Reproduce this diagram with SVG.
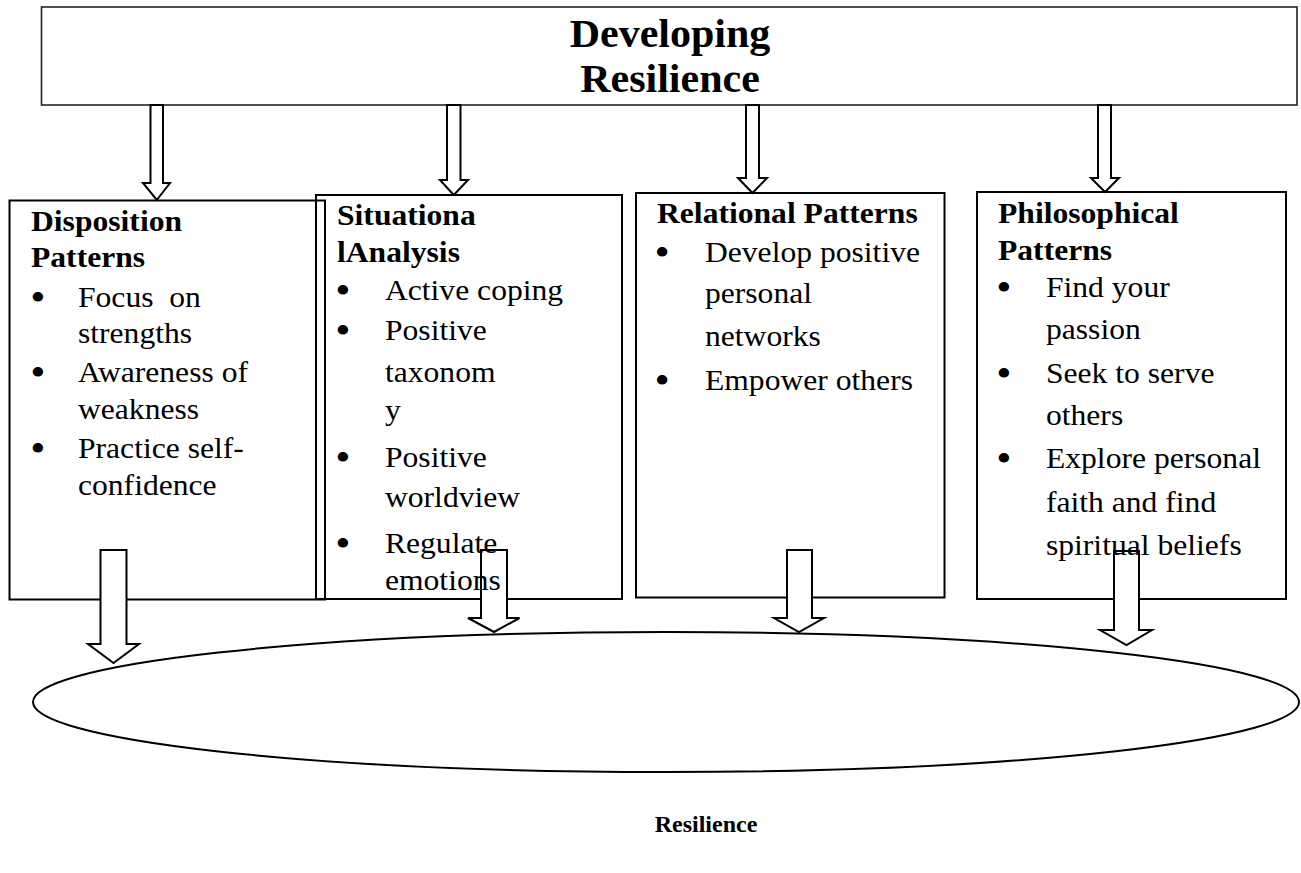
<svg xmlns="http://www.w3.org/2000/svg" width="1301" height="873" viewBox="0 0 1301 873">
<style>
.box{fill:none;stroke:#000;stroke-width:2}
.top{fill:#fff;stroke:#222;stroke-width:1.6}
.arrow{fill:#fff;stroke:#000;stroke-width:2;stroke-linejoin:miter}
.oval{fill:none;stroke:#000;stroke-width:2}
text{font-family:'Liberation Serif','Times New Roman',Tinos,'Nimbus Roman','FreeSerif',serif;fill:#000}
.h{font-weight:bold;font-size:29px}
.b{font-size:29px}
.dot{font-size:40px;text-anchor:middle}
.title{font-weight:bold;font-size:40px;text-anchor:middle}
.res{font-weight:bold;font-size:24px;text-anchor:middle}
</style>
<rect width="1301" height="873" fill="#fff"/>

<g id="node-top">
<rect class="top" x="41.5" y="7" width="1255.5" height="98"/>
<g transform="matrix(1.05,0,0,1,670,0)">
<text class="title" x="0" y="47" font-family="Liberation Serif, serif">Developing</text>
<text class="title" x="0" y="92" font-family="Liberation Serif, serif">Resilience</text>
</g>
</g>

<g id="node-disposition"><rect class="box" x="9.5" y="200.5" width="315.5" height="399"/></g>
<g id="node-situational"><rect class="box" x="316" y="195" width="306" height="404"/></g>
<g id="node-relational"><rect class="box" x="636" y="193" width="308.5" height="404.5"/></g>
<g id="node-philosophical"><rect class="box" x="977" y="192" width="309" height="407"/></g>
<g id="node-resilience">
<ellipse class="oval" cx="666" cy="702" rx="633" ry="70"/>
<text class="res" x="706" y="832">Resilience</text>
</g>

<g id="connectors">
<polygon class="arrow" points="150.5,105 163,105 163,183 170,183 156.75,200 143,183 150.5,183"/>
<polygon class="arrow" points="447,105 460.5,105 460.5,180 468,180 453.75,195 440,180 447,180"/>
<polygon class="arrow" points="746,105 759,105 759,178 767,178 752.5,193 738,178 746,178"/>
<polygon class="arrow" points="1098,105 1111,105 1111,178 1119,178 1105,192 1091,178 1098,178"/>
<polygon class="arrow" points="100.5,550 126.5,550 126.5,644 139,644 113.5,663 88,644 100.5,644"/>
<polygon class="arrow" points="481,550 507,550 507,618 519.5,618 494,632 468,618 481,618"/>
<polygon class="arrow" points="787,550 812,550 812,618 824,618 799,632 774,618 787,618"/>
<polygon class="arrow" points="1114,551 1139,551 1139,630 1152,630 1126.5,645 1100,630 1114,630"/>
</g>

<g id="label-disposition" transform="matrix(1.09,0,0,1,31,0)">
<text class="h" x="0" y="231">Disposition</text>
<text class="h" x="0" y="267">Patterns</text>
<text class="dot" x="6.4" y="311">•</text>
<text class="b" x="43.1" y="307" xml:space="preserve">Focus  on</text>
<text class="b" x="43.1" y="343">strengths</text>
<text class="dot" x="6.4" y="386">•</text>
<text class="b" x="43.1" y="382">Awareness of</text>
<text class="b" x="43.1" y="419">weakness</text>
<text class="dot" x="6.4" y="462">•</text>
<text class="b" x="43.1" y="458">Practice self-</text>
<text class="b" x="43.1" y="495">confidence</text>
</g>

<g id="label-situational" transform="matrix(1.09,0,0,1,337,0)">
<text class="h" x="0" y="225">Situationa</text>
<text class="h" x="0" y="262">lAnalysis</text>
<text class="dot" x="5.5" y="304">•</text>
<text class="b" x="44" y="300">Active coping</text>
<text class="dot" x="5.5" y="344">•</text>
<text class="b" x="44" y="340">Positive</text>
<text class="b" x="44" y="382">taxonom</text>
<text class="b" x="44" y="420">y</text>
<text class="dot" x="5.5" y="471">•</text>
<text class="b" x="44" y="467">Positive</text>
<text class="b" x="44" y="507">worldview</text>
<text class="dot" x="5.5" y="557">•</text>
<text class="b" x="44" y="553">Regulate</text>
<text class="b" x="44" y="590">emotions</text>
</g>

<g id="label-relational" transform="matrix(1.09,0,0,1,657,0)">
<text class="h" x="0" y="223">Relational Patterns</text>
<text class="dot" x="4.6" y="266">•</text>
<text class="b" x="44" y="262">Develop positive</text>
<text class="b" x="44" y="303">personal</text>
<text class="b" x="44" y="346">networks</text>
<text class="dot" x="4.6" y="394">•</text>
<text class="b" x="44" y="390">Empower others</text>
</g>

<g id="label-philosophical" transform="matrix(1.09,0,0,1,998,0)">
<text class="h" x="0" y="223">Philosophical</text>
<text class="h" x="0" y="260">Patterns</text>
<text class="dot" x="5.5" y="301">•</text>
<text class="b" x="44" y="297">Find your</text>
<text class="b" x="44" y="339">passion</text>
<text class="dot" x="5.5" y="387">•</text>
<text class="b" x="44" y="383">Seek to serve</text>
<text class="b" x="44" y="425">others</text>
<text class="dot" x="5.5" y="472">•</text>
<text class="b" x="44" y="468">Explore personal</text>
<text class="b" x="44" y="512">faith and find</text>
<text class="b" x="44" y="555">spiritual beliefs</text>
</g>
</svg>
